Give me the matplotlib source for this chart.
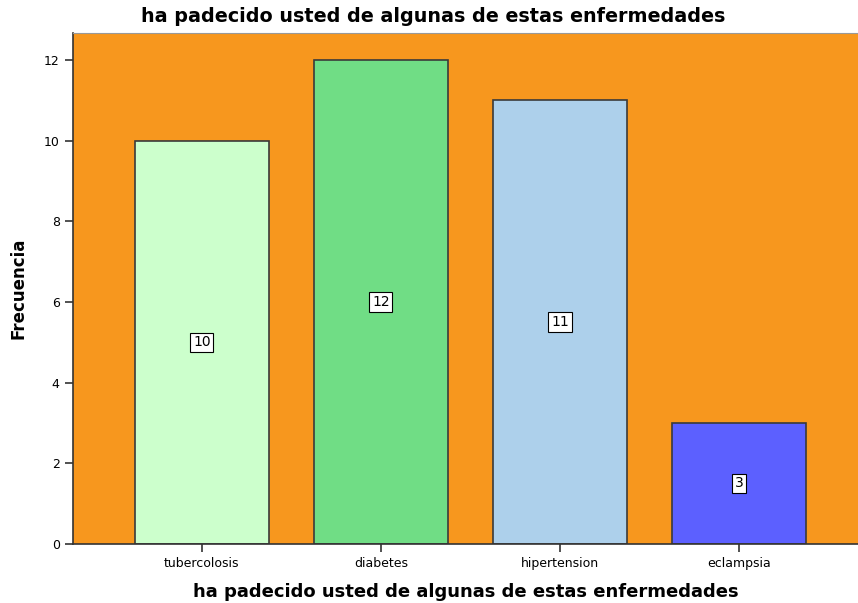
import matplotlib.pyplot as plt

categories = ['tubercolosis', 'diabetes', 'hipertension', 'eclampsia']
counts = [10, 12, 11, 3]
bar_colors = ['#ccffcc', '#70dd85', '#add0eb', '#5c60ff']
title = 'ha padecido usted de algunas de estas enfermedades'

plt.rcParams.update({'font.family': 'DejaVu Sans', 'font.size': 9})

fig = plt.figure(figsize=(8.58, 6.03), dpi=100)
ax = fig.add_axes([0.085, 0.098, 0.915, 0.847])
ax.set_facecolor('#f7971e')

x = range(len(categories))
ax.bar(x, counts, width=0.75, color=bar_colors, edgecolor='#3a3a3a', linewidth=1.2, zorder=2)

for i, v in enumerate(counts):
    ax.text(i, v / 2, str(v), ha='center', va='center', fontsize=10, zorder=3,
            bbox=dict(boxstyle='square,pad=0.2', facecolor='white', edgecolor='black', linewidth=0.8))

ax.set_xlim(-0.72, 3.665)
ax.set_ylim(0, 12.67)
ax.set_xticks(list(x))
ax.set_xticklabels(categories)
ax.set_yticks([0, 2, 4, 6, 8, 10, 12])
ax.tick_params(axis='both', direction='out', length=6, width=1.2, colors='#333333', labelcolor='black')

for side in ['left', 'bottom']:
    ax.spines[side].set_color('#333333')
    ax.spines[side].set_linewidth(1.2)
ax.spines['top'].set_color('#999999')
ax.spines['right'].set_visible(False)

fig.text(0.505, 0.972, title, ha='center', va='center', fontsize=13.8, fontweight='bold')
ax.set_xlabel(title, fontsize=13, fontweight='bold', labelpad=9)
ax.set_ylabel('Frecuencia', fontsize=12, fontweight='bold', labelpad=12)

fig.savefig('out.png', dpi=100)
